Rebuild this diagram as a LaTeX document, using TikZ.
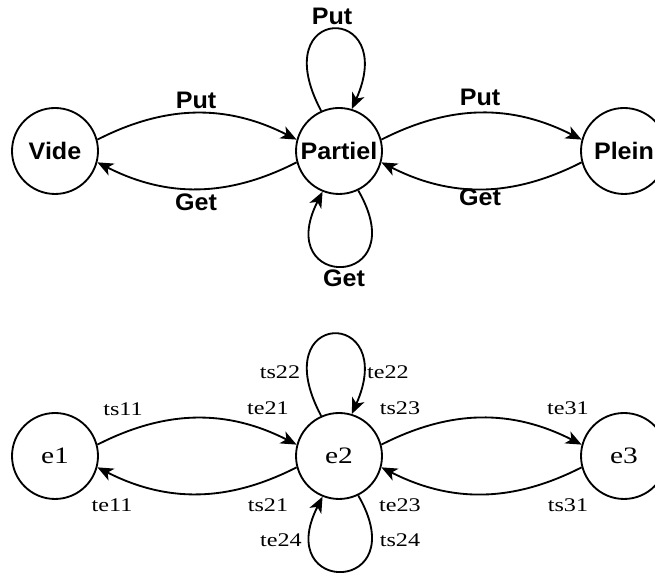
\documentclass[tikz,border=0pt]{standalone}
\usepackage{fontspec}
\usetikzlibrary{arrows.meta}
\newfontfamily\etatfont[FakeStretch=1.05]{Liberation Sans}
\newfontfamily\transfont[FakeStretch=1.25]{Liberation Serif}

\begin{document}
\begin{tikzpicture}[x=0.02cm,y=0.02cm,>={Stealth[length=9pt,width=7.5pt,inset=2.5pt]},
  etat/.style={draw,circle,line width=1.05pt,minimum size=1.72cm,inner sep=0pt},
  trans/.style={->,line width=1.05pt},
  gras/.style={font=\etatfont\bfseries\fontsize{13.6}{16}\selectfont},
  serif/.style={font=\transfont\fontsize{13.4}{15}\selectfont},
  etiq/.style={font=\transfont\fontsize{11}{13}\selectfont}]
\useasboundingbox (0,0) rectangle (655,573);
\node[etat,gras] (vide) at (55,422) {Vide};
\node[etat,gras] (partiel) at (339,422) {Partiel};
\node[etat,gras] (plein) at (624,422) {Plein};
\node[etat,serif] (e1) at (55,117) {e1};
\node[etat,serif] (e2) at (339,117) {e2};
\node[etat,serif] (e3) at (624,117) {e3};
\foreach \a/\b in {vide/partiel,partiel/plein,e1/e2,e2/e3}{
  \draw[trans] (\a.15) to[out=27,in=153] (\b.165);
  \draw[trans] (\b.195) to[out=207,in=-27] (\a.-15);}
\foreach \c in {partiel,e2}{
  \draw[trans] (\c.114) .. controls +(118:122) and +(66:117) .. (\c.73);
  \draw[trans] (\c.-64) .. controls +(-60:115) and +(-117:112) .. (\c.-112);}
\node[gras] (putVP) at (196,473) {Put};
\node[gras] (getPV) at (196,371) {Get};
\node[gras] (putPP) at (480,476) {Put};
\node[gras] (getPP) at (480,376) {Get};
\node[gras] (putP) at (332,557) {Put};
\node[gras] (getP) at (344,295) {Get};
\foreach \nm/\x/\y in {ts11/123/164,te21/268/165,ts23/400/165,te31/568/165,
  te11/112/68,ts21/268/68,te23/400/68,ts31/568/68,
  ts22/280/201,te22/388/201,te24/281/33,ts24/400/33}
  \node[etiq] (\nm) at (\x,\y) {\nm};
\end{tikzpicture}
\end{document}
